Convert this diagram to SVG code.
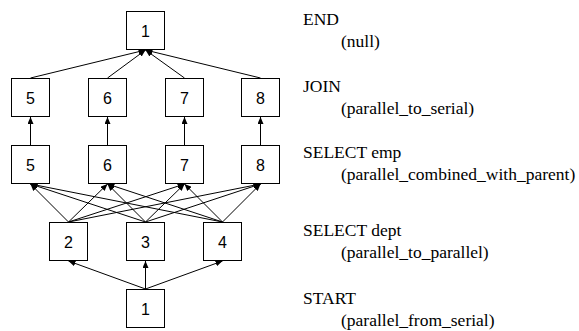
<svg xmlns="http://www.w3.org/2000/svg" width="579" height="331" viewBox="0 0 579 331">
<style>
.box{fill:#fff;stroke:#000;stroke-width:1}
.num{font-family:"Liberation Sans",Arial,sans-serif;font-size:16px;text-anchor:middle;fill:#000}
.lbl{font-family:"Liberation Serif","Times New Roman",serif;font-size:17.5px;fill:#000}
.edge{stroke:#000;stroke-width:1;fill:none;marker-end:url(#arr)}
</style>
<defs>
<marker id="arr" markerUnits="userSpaceOnUse" markerWidth="8" markerHeight="6" refX="7" refY="3" orient="auto">
<path d="M0,0 L7,3 L0,6 z" fill="#000"/>
</marker>
</defs>
<rect width="579" height="331" fill="#fff"/>
<g id="connectors">
<line class="edge" x1="30.5" y1="78" x2="145.5" y2="50"/>
<line class="edge" x1="107.5" y1="78" x2="145.5" y2="50"/>
<line class="edge" x1="184.5" y1="78" x2="145.5" y2="50"/>
<line class="edge" x1="260.5" y1="78" x2="145.5" y2="50"/>
<line class="edge" x1="30.5" y1="145" x2="30.5" y2="117"/>
<line class="edge" x1="107.5" y1="145" x2="107.5" y2="117"/>
<line class="edge" x1="184.5" y1="145" x2="184.5" y2="117"/>
<line class="edge" x1="260.5" y1="145" x2="260.5" y2="117"/>
<line class="edge" x1="68.5" y1="222" x2="30.5" y2="184"/>
<line class="edge" x1="68.5" y1="222" x2="107.5" y2="184"/>
<line class="edge" x1="68.5" y1="222" x2="184.5" y2="184"/>
<line class="edge" x1="68.5" y1="222" x2="260.5" y2="184"/>
<line class="edge" x1="145.5" y1="222" x2="30.5" y2="184"/>
<line class="edge" x1="145.5" y1="222" x2="107.5" y2="184"/>
<line class="edge" x1="145.5" y1="222" x2="184.5" y2="184"/>
<line class="edge" x1="145.5" y1="222" x2="260.5" y2="184"/>
<line class="edge" x1="222.5" y1="222" x2="30.5" y2="184"/>
<line class="edge" x1="222.5" y1="222" x2="107.5" y2="184"/>
<line class="edge" x1="222.5" y1="222" x2="184.5" y2="184"/>
<line class="edge" x1="222.5" y1="222" x2="260.5" y2="184"/>
<line class="edge" x1="145.5" y1="289" x2="68.5" y2="261"/>
<line class="edge" x1="145.5" y1="289" x2="145.5" y2="261"/>
<line class="edge" x1="145.5" y1="289" x2="222.5" y2="261"/>
</g>
<g id="end1"><rect class="box" x="126.5" y="11.5" width="38" height="38"/><text class="num" x="145.5" y="36.5">1</text></g>
<g id="join5"><rect class="box" x="11.5" y="78.5" width="38" height="38"/><text class="num" x="30.5" y="103.5">5</text></g>
<g id="join6"><rect class="box" x="88.5" y="78.5" width="38" height="38"/><text class="num" x="107.5" y="103.5">6</text></g>
<g id="join7"><rect class="box" x="165.5" y="78.5" width="38" height="38"/><text class="num" x="184.5" y="103.5">7</text></g>
<g id="join8"><rect class="box" x="241.5" y="78.5" width="38" height="38"/><text class="num" x="260.5" y="103.5">8</text></g>
<g id="emp5"><rect class="box" x="11.5" y="145.5" width="38" height="38"/><text class="num" x="30.5" y="170.5">5</text></g>
<g id="emp6"><rect class="box" x="88.5" y="145.5" width="38" height="38"/><text class="num" x="107.5" y="170.5">6</text></g>
<g id="emp7"><rect class="box" x="165.5" y="145.5" width="38" height="38"/><text class="num" x="184.5" y="170.5">7</text></g>
<g id="emp8"><rect class="box" x="241.5" y="145.5" width="38" height="38"/><text class="num" x="260.5" y="170.5">8</text></g>
<g id="dept2"><rect class="box" x="49.5" y="222.5" width="38" height="38"/><text class="num" x="68.5" y="247.5">2</text></g>
<g id="dept3"><rect class="box" x="126.5" y="222.5" width="38" height="38"/><text class="num" x="145.5" y="247.5">3</text></g>
<g id="dept4"><rect class="box" x="203.5" y="222.5" width="38" height="38"/><text class="num" x="222.5" y="247.5">4</text></g>
<g id="start1"><rect class="box" x="126.5" y="289.5" width="38" height="38"/><text class="num" x="145.5" y="314.5">1</text></g>
<g id="labels">
<text class="lbl" x="303" y="25">END</text>
<text class="lbl" x="341" y="47">(null)</text>
<text class="lbl" x="303" y="92">JOIN</text>
<text class="lbl" x="341" y="114">(parallel_to_serial)</text>
<text class="lbl" x="303" y="158">SELECT emp</text>
<text class="lbl" x="341" y="180">(parallel_combined_with_parent)</text>
<text class="lbl" x="303" y="236">SELECT dept</text>
<text class="lbl" x="341" y="258">(parallel_to_parallel)</text>
<text class="lbl" x="303" y="304">START</text>
<text class="lbl" x="341" y="326">(parallel_from_serial)</text>
</g>
</svg>
